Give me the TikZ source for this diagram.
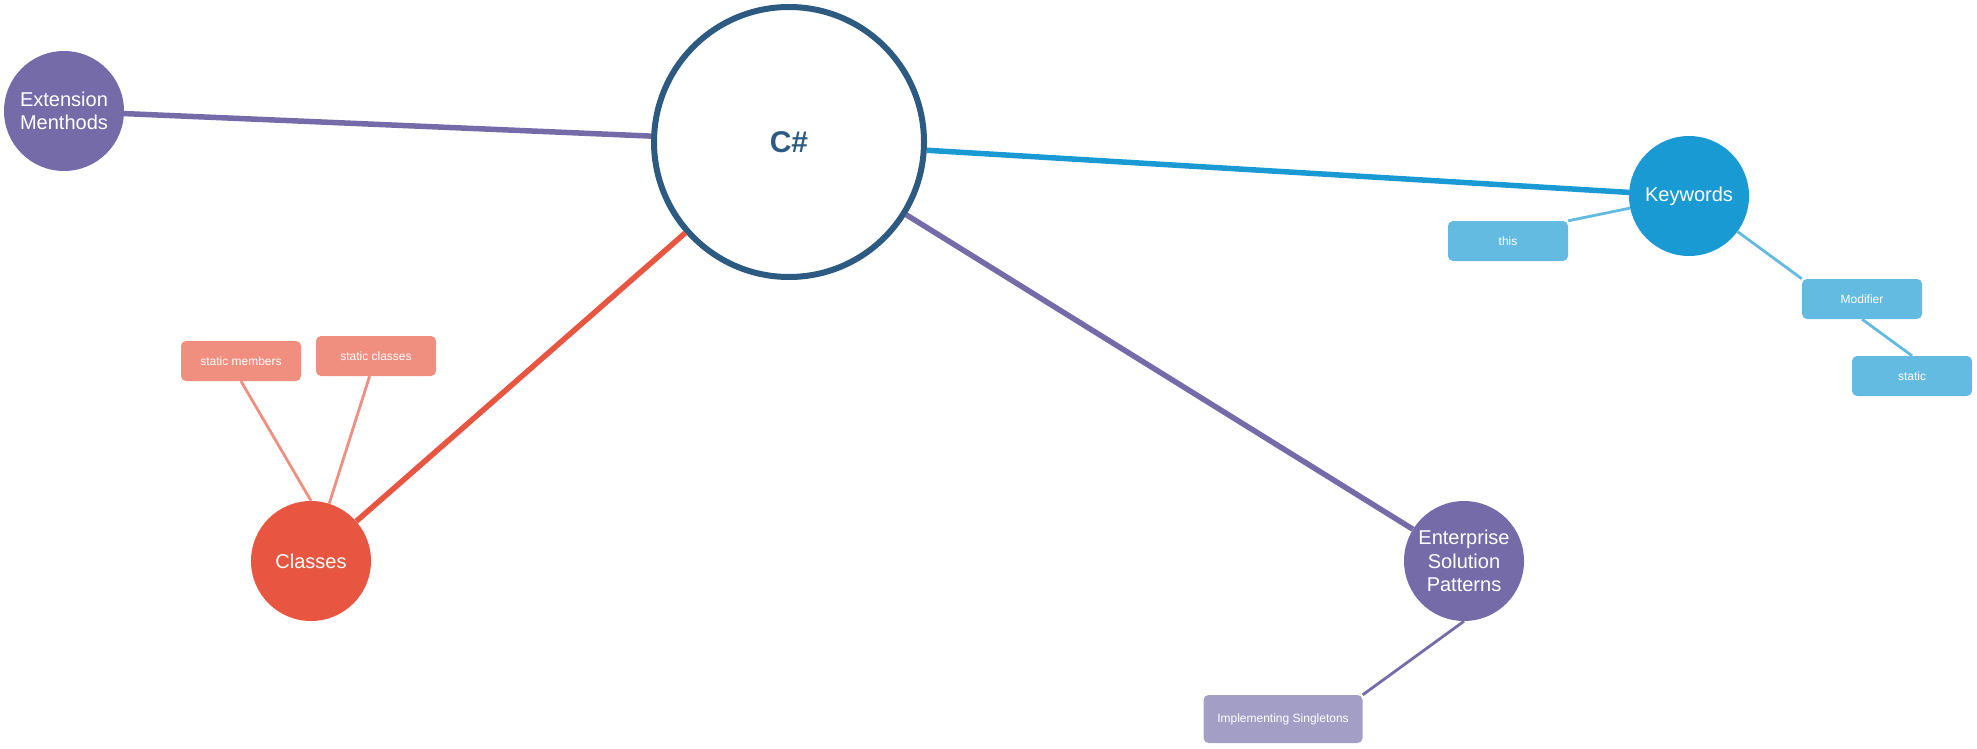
\documentclass[tikz,border=0pt]{standalone}
\usepackage{fontspec}
\setmainfont{Liberation Sans}
\usepackage{tikz}
\definecolor{hubblue}{HTML}{2D5A80}
\definecolor{espurple}{HTML}{756BA8}
\definecolor{kwblue}{HTML}{1A9AD3}
\definecolor{clred}{HTML}{E85641}
\definecolor{clsalmon}{HTML}{F08F80}
\definecolor{kwlight}{HTML}{63BBE1}
\definecolor{esplight}{HTML}{A39EC6}

\begin{document}
\begin{tikzpicture}[x=1pt, y=-1pt,
    every node/.style = {circle, inner sep=0pt, minimum size=120pt, align=center,
                         text=white, font=\fontsize{20}{23.5}\selectfont},
    leaf/.style = {rectangle, rounded corners=5pt, minimum width=120pt,
                   minimum height=40pt, font=\fontsize{12}{14}\selectfont},
    trunk/.style = {line width=5.5pt},
    twig/.style = {line width=2.8pt}]
          \useasboundingbox (0,0) rectangle (1977,749);

          \node[draw=hubblue, line width=6pt, fill=white, minimum size=270pt,
                text=hubblue, font=\fontsize{30}{36}\selectfont\bfseries] (csharp) at (789,142) {C\#};
          \node[fill=espurple] (ext) at (64,111) {Extension\\Menthods};
          \node[fill=kwblue] (kw) at (1689,196) {Keywords};
          \node[fill=clred] (classes) at (311,561) {Classes};
          \node[fill=espurple] (esp) at (1464,561) {Enterprise\\Solution\\Patterns};

          \node[leaf, fill=clsalmon] (smembers) at (241,361) {static members};
          \node[leaf, fill=clsalmon] (sclasses) at (376,356) {static classes};
          \node[leaf, fill=kwlight] (this) at (1508,241) {this};
          \node[leaf, fill=kwlight] (modifier) at (1862,299) {Modifier};
          \node[leaf, fill=kwlight] (static) at (1912,376) {static};
          \node[leaf, fill=esplight, minimum width=159pt, minimum height=48pt] (singletons) at (1283,719) {Implementing Singletons};

          \draw[trunk, espurple] (csharp) -- (ext);
          \draw[trunk, kwblue] (csharp) -- (kw);
          \draw[trunk, clred] (csharp) -- (classes);
          \draw[trunk, espurple] (csharp) -- (esp);

          \draw[twig, clsalmon] (smembers.south) -- (classes.north);
          \draw[twig, clsalmon] (sclasses) -- (classes);
          \draw[twig, kwlight] (kw) -- (this.north east);
          \draw[twig, kwlight] (kw) -- (modifier.north west);
          \draw[twig, kwlight] (modifier.south) -- (static.north);
          \draw[twig, espurple] (esp.south) -- (singletons.north east);
        \end{tikzpicture}
\end{document}
